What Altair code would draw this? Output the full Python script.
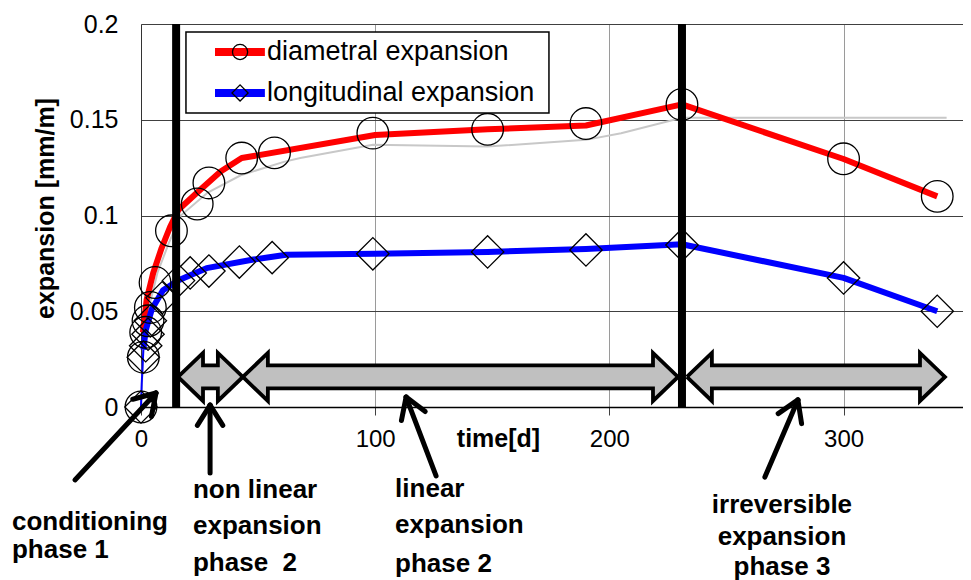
import math
import altair as alt
import pandas as pd

# ---------------- data ----------------
# measured points: diametral expansion (circles)
diam_days = [0, 1, 2, 3, 4, 6, 13, 24, 29, 43, 57, 99, 148, 190, 231, 300, 340]
diam_vals = [0, 0.026, 0.039, 0.045, 0.052, 0.065, 0.092, 0.106, 0.117, 0.130,
             0.1327, 0.143, 0.145, 0.148, 0.158, 0.1296, 0.110]

# measured points: longitudinal expansion (diamonds)
long_days = [0, 1, 2, 3, 4, 9, 16, 21, 29, 42, 56, 99, 148, 190, 231, 300, 340]
long_vals = [0, 0.026, 0.032, 0.038, 0.045, 0.057, 0.066, 0.070, 0.071, 0.0757,
             0.078, 0.080, 0.081, 0.082, 0.0846, 0.0674, 0.050]

# red curve (diametral)
diam_curve_days = [0.8, 2.4, 5.2, 8.8, 12.4, 16, 24, 34, 43, 100, 148, 190, 231, 300, 340]
diam_curve_vals = [0.039, 0.056, 0.070, 0.083, 0.094, 0.103, 0.112, 0.123, 0.130,
                   0.142, 0.145, 0.147, 0.158, 0.1295, 0.110]

# blue curve (longitudinal)
long_curve_days = [1, 2, 4.6, 9.4, 15.8, 28, 48, 62, 100, 148, 190, 231, 300, 340]
long_curve_vals = [0.030, 0.040, 0.051, 0.061, 0.066, 0.0725, 0.077, 0.0795,
                   0.080, 0.081, 0.0825, 0.085, 0.0674, 0.050]

# thin start of the blue curve
long_start_days = [0, 0.3, 0.7, 1]
long_start_vals = [0, 0.012, 0.022, 0.030]

# light grey fitted curve
fit_days = [0, 1, 3, 7, 12, 17, 28.5, 42.6, 61, 68, 99, 148, 190, 205, 231, 344]
fit_vals = [0, 0.030, 0.050, 0.070, 0.086, 0.100, 0.112, 0.121, 0.128, 0.130,
            0.137, 0.136, 0.1395, 0.143, 0.151, 0.151]

# phase boundaries (thick black lines)
phase_boundaries = [15, 231]

# grey double arrows: (start day, end day)
phase_spans = [(15.8, 43.5), (43.5, 229.3), (233.1, 343.3)]
phase_arrow_level = 0.0157

# annotation arrows: (tail day, tail value, tip day, tip value)
pointers = [(-28.2, -0.0381, 6.4, 0.0073),
            (29.5, -0.0345, 29.5, 0.001),
            (126.0, -0.036, 113.2, 0.0052),
            (266.4, -0.0366, 280.5, 0.0037)]

# annotation texts: (text, day, value of baseline)
notes_left = [("conditioning", -55.1, -0.0642), ("phase 1", -55.1, -0.0789),
              ("non linear", 22.2, -0.0475), ("expansion", 22.2, -0.0664),
              ("phase\u00a0 2", 22.2, -0.0857),
              ("linear", 108.5, -0.0470), ("expansion", 108.5, -0.0660),
              ("phase 2", 108.5, -0.0862)]
notes_center = [("irreversible", 273.7, -0.0554), ("expansion", 273.7, -0.0721),
                ("phase 3", 273.7, -0.0877)]

series_names = ["diametral expansion", "longitudinal expansion"]
series_colors = ["#ff0000", "#0000ff"]

x_ticks = [0, 100, 200, 300]
y_ticks = [0, 0.05, 0.1, 0.15, 0.2]

# ---------------- layout ----------------
W, H = 822, 383
XMAX, YMAX = 351, 0.2
PXD = W / XMAX      # pixels per day
PXV = H / YMAX      # pixels per mm/m
FONT = "Liberation Sans, Arial, Helvetica, sans-serif"

XS = alt.Scale(domain=[0, XMAX], nice=False, zero=False)
YS = alt.Scale(domain=[0, YMAX], nice=False, zero=False)

xaxis = alt.Axis(values=x_ticks, format="d", title="time[d]", titleFont=FONT,
                 titleFontSize=25, titleFontWeight="bold", titleColor="black",
                 titleX=357, titleY=31, titleBaseline="middle", titleAlign="center",
                 labelFont=FONT, labelFontSize=24, labelColor="black", labelPadding=12,
                 labelFlush=False, tickSize=8, tickColor="#404040", tickWidth=1,
                 domainColor="black", domainWidth=1.5, grid=True, gridColor="#9a9a9a",
                 gridWidth=1)
yaxis = alt.Axis(values=y_ticks, format=".2~f", title="expansion [mm/m]", titleFont=FONT,
                 titleFontSize=25, titleFontWeight="bold", titleColor="black",
                 titleAngle=270, titleX=-96, titleY=184, titleAlign="center",
                 titleBaseline="middle", labelFont=FONT, labelFontSize=25,
                 labelColor="black", labelPadding=23, labelFlush=False, ticks=False,
                 domainColor="#333333", domainWidth=1, grid=True, gridColor="#404040",
                 gridWidth=1.2)


def X(f="d"):
    return alt.X(f, type="quantitative", scale=XS, axis=xaxis)


def Y(f="v"):
    return alt.Y(f, type="quantitative", scale=YS, axis=yaxis)


def df(days, vals):
    return pd.DataFrame({"d": days, "v": vals})


# ---------------- layers ----------------
fit = alt.Chart(df(fit_days, fit_vals)).mark_line(
    color="#c8c8c8", strokeWidth=2).encode(x=X(), y=Y())

red = alt.Chart(df(diam_curve_days, diam_curve_vals)).mark_line(
    color=series_colors[0], strokeWidth=6, strokeJoin="round").encode(x=X(), y=Y())
blue_start = alt.Chart(df(long_start_days, long_start_vals)).mark_line(
    color=series_colors[1], strokeWidth=2).encode(x=X(), y=Y())
blue = alt.Chart(df(long_curve_days, long_curve_vals)).mark_line(
    color=series_colors[1], strokeWidth=6, strokeJoin="round").encode(x=X(), y=Y())

circles = alt.Chart(df(diam_days, diam_vals)).mark_point(
    shape="circle", filled=False, stroke="black", strokeWidth=1.3, size=1000,
    opacity=1).encode(x=X(), y=Y())
diamonds = alt.Chart(df(long_days, long_vals)).mark_point(
    shape="diamond", filled=False, stroke="black", strokeWidth=1.3, size=1050,
    opacity=1).encode(x=X(), y=Y())

bounds = alt.Chart(pd.DataFrame({"d": phase_boundaries, "v": [0] * 2, "v2": [YMAX] * 2})).mark_rule(
    color="black", strokeWidth=8).encode(x=X(), y=Y(), y2="v2")

# grey double arrows as filled outlines
rows = []
hl = 25 / PXD
sh = 11.5 / PXV
hh = 24 / PXV
yc = phase_arrow_level
for k, (a, b) in enumerate(phase_spans):
    pts = [(a, yc), (a + hl, yc + hh), (a + hl, yc + sh), (b - hl, yc + sh),
           (b - hl, yc + hh), (b, yc), (b - hl, yc - hh), (b - hl, yc - sh),
           (a + hl, yc - sh), (a + hl, yc - hh), (a, yc)]
    for i, (d, v) in enumerate(pts):
        rows.append({"arrow": k, "i": i, "d": d, "v": v})
arrows = alt.Chart(pd.DataFrame(rows)).mark_line(
    stroke="black", strokeWidth=3.8, strokeJoin="miter").encode(
    x=X(), y=Y(), detail="arrow:N", order="i:Q", fill=alt.value("#c0c0c0"))

# black pointer arrows
seg = []
L, th = 24, math.radians(32)
for (d0, v0, d1, v1) in pointers:
    seg.append({"d": d0, "v": v0, "d2": d1, "v2": v1})
    px, py = (d1 - d0) * PXD, -(v1 - v0) * PXV
    n = math.hypot(px, py)
    ux, uy = px / n, py / n
    for s in (1, -1):
        c, si = math.cos(s * th), math.sin(s * th)
        rx, ry = ux * c - uy * si, ux * si + uy * c
        wx, wy = -L * rx, -L * ry
        seg.append({"d": d1, "v": v1, "d2": d1 + wx / PXD, "v2": v1 - wy / PXV})
pointer = alt.Chart(pd.DataFrame(seg)).mark_rule(
    color="black", strokeWidth=5, strokeCap="round").encode(
    x=X(), y=Y(), x2="d2", y2="v2")

txt_left = alt.Chart(pd.DataFrame(notes_left, columns=["t", "d", "v"])).mark_text(
    align="left", baseline="alphabetic", font=FONT, fontSize=26, fontWeight="bold",
    color="black").encode(x=X(), y=Y(), text="t:N")
txt_center = alt.Chart(pd.DataFrame(notes_center, columns=["t", "d", "v"])).mark_text(
    align="center", baseline="alphabetic", font=FONT, fontSize=26, fontWeight="bold",
    color="black").encode(x=X(), y=Y(), text="t:N")

# legend (drawn inside the plot)
leg_box = alt.Chart(pd.DataFrame({"d": [19.2], "d2": [174.2], "v": [0.1535], "v2": [0.1958]})).mark_rect(
    fill="white", stroke="black", strokeWidth=1.5).encode(x=X(), x2="d2", y=Y(), y2="v2")
leg_rows = pd.DataFrame({"name": series_names, "v": [0.1854, 0.164],
                         "d": [31.6, 31.6], "d2": [52.9, 52.9], "dm": [42.3, 42.3],
                         "dt": [53.8, 53.8]})
leg_lines = alt.Chart(leg_rows).mark_rule(strokeWidth=8).encode(
    x=X(), x2="d2", y=Y(),
    color=alt.Color("name:N", scale=alt.Scale(domain=series_names, range=series_colors),
                    legend=None))
leg_c = alt.Chart(leg_rows.iloc[[0]]).mark_point(
    shape="circle", filled=False, stroke="black", strokeWidth=1.3, size=230,
    opacity=1).encode(x=X("dm"), y=Y())
leg_dm = alt.Chart(leg_rows.iloc[[1]]).mark_point(
    shape="diamond", filled=False, stroke="black", strokeWidth=1.3, size=260,
    opacity=1).encode(x=X("dm"), y=Y())
leg_text = alt.Chart(leg_rows).mark_text(
    align="left", baseline="middle", font=FONT, fontSize=27, color="black").encode(
    x=X("dt"), y=Y(), text="name:N")

chart = alt.layer(
    fit, red, blue_start, blue, circles, diamonds, arrows, bounds, pointer,
    txt_left, txt_center, leg_box, leg_lines, leg_c, leg_dm, leg_text
).properties(
    width=W, height=H,
    padding={"left": 133, "top": 16, "right": 0, "bottom": 180},
    autosize=alt.AutoSizeParams(type="none"),
    background="white"
).configure_view(stroke=None)

chart.save("out.html", embed_options={"renderer": "svg", "actions": False})
